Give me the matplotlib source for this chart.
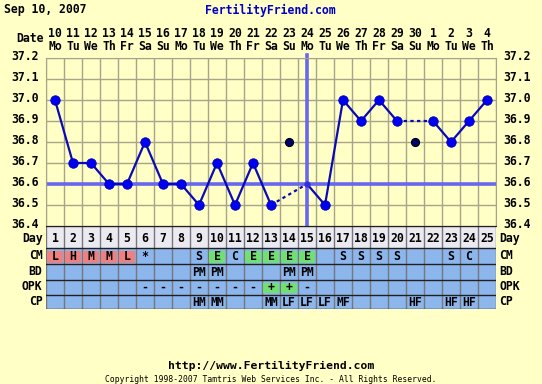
import matplotlib
matplotlib.use("Agg")
import matplotlib.pyplot as plt
import matplotlib.transforms as mtransforms
from matplotlib.patches import Rectangle

# --- datos del ciclo ---
days = list(range(1, 26))
dates = ["10", "11", "12", "13", "14", "15", "16", "17", "18", "19", "20", "21", "22",
         "23", "24", "25", "26", "27", "28", "29", "30", "1", "2", "3", "4"]
weekdays = ["Mo", "Tu", "We", "Th", "Fr", "Sa", "Su"] * 3 + ["Mo", "Tu", "We", "Th"]
temps = [37.0, 36.7, 36.7, 36.6, 36.6, 36.8, 36.6, 36.6, 36.5, 36.7, 36.5, 36.7, 36.5,
         36.8, 36.6, 36.5, 37.0, 36.9, 37.0, 36.9, 36.8, 36.9, 36.8, 36.9, 37.0]
discarded = [14, 21]
coverline = 36.6
ovulation_day = 15
yticks = [36.4, 36.5, 36.6, 36.7, 36.8, 36.9, 37.0, 37.1, 37.2]

cm = ["L", "H", "M", "M", "L", "*", "", "", "S", "E", "C", "E", "E", "E", "E", "",
      "S", "S", "S", "S", "", "", "S", "C", ""]
period_days = [1, 2, 3, 4, 5]
bd = [""] * 8 + ["PM", "PM", "", "", "", "PM", "PM"] + [""] * 10
opk = [""] * 5 + ["-", "-", "-", "-", "-", "-", "-", "+", "+", "-"] + [""] * 10
cp = [""] * 8 + ["HM", "MM", "", "", "MM", "LF", "LF", "LF", "MF", "", "", "",
                 "HF", "", "HF", "HF", ""]

BG = "#FFFFC6"
MONO = "DejaVu Sans Mono"
FS = 8.3

W, H = 542, 384
fig = plt.figure(figsize=(W / 100, H / 100), dpi=100, facecolor=BG)

# --- grafico de temperatura ---
ax = fig.add_axes([46 / W, (H - 226) / H, 450 / W, 168 / H])
ax.set_facecolor(BG)
ax.set_xlim(0.5, 25.5)
ax.set_ylim(36.4, 37.2)
for k in range(26):
    ax.axvline(0.5 + k, color="#A8A48C", lw=1, zorder=1)
for t in yticks:
    ax.axhline(t, color="#A8A48C", lw=1, zorder=1)
for s in ax.spines.values():
    s.set_color("#A8A48C")
ax.spines["bottom"].set_color("#202020")

ax.set_yticks(yticks)
ax.set_yticklabels([f"{t:.1f}" for t in yticks], fontfamily=MONO, fontweight="bold",
                   fontsize=FS)
ax.set_xticks(days)
ax.set_xticklabels([f"{d}\n{w}" for d, w in zip(dates, weekdays)], fontfamily=MONO,
                   fontweight="bold", fontsize=FS, linespacing=1.05)
ax.tick_params(axis="y", left=False, right=False, labelleft=True, labelright=True, pad=2)
ax.tick_params(axis="x", top=False, bottom=False, labeltop=True, labelbottom=False, pad=0)

# las etiquetas de temperatura quedan un poco por encima de la linea
shift = mtransforms.ScaledTranslation(0, 3.0 / 100, fig.dpi_scale_trans)
for tk in ax.yaxis.get_major_ticks():
    tk.label1.set_transform(tk.label1.get_transform() + shift)
    tk.label2.set_transform(tk.label2.get_transform() + shift)

# linea de cobertura y dia de ovulacion
ax.axhline(coverline, color="#6868EE", lw=2.6, zorder=2)
ax.axvline(ovulation_day, ymin=0, ymax=1.02, color="#6868EE", lw=2.6, zorder=2,
           clip_on=False)

valid = [d for d in days if d not in discarded]
for a, b in zip(valid[:-1], valid[1:]):
    style = "-" if b - a == 1 else (0, (1.5, 1.5))
    ax.plot([a, b], [temps[a - 1], temps[b - 1]], color="#0A0AB4", lw=1.6,
            linestyle=style, zorder=3)
vx = [d for d in valid if d != ovulation_day]
ax.plot(vx, [temps[d - 1] for d in vx], "o", color="#0000F0", mec="#0000B0",
        ms=6.8, mew=0.6, zorder=4)
ax.plot([ovulation_day], [temps[ovulation_day - 1]], "o", color="#3030E0",
        ms=3.5, zorder=4)
ax.plot(discarded, [temps[d - 1] for d in discarded], "o", color="#000070",
        mec="#000000", ms=5.8, mew=0.8, zorder=4)

fig.text(44 / W, 1 - 39 / H, "Date", ha="right", va="center", fontfamily=MONO,
         fontweight="bold", fontsize=FS)

# --- tabla de observaciones ---
tab = fig.add_axes([46 / W, (H - 309) / H, 450 / W, 83 / H])
tab.set_xlim(0.5, 25.5)
tab.set_ylim(83, 0)
tab.axis("off")

rows = [("Day", 0, 21.5), ("CM", 21.5, 38), ("BD", 38, 53.5), ("OPK", 53.5, 68.5),
        ("CP", 68.5, 83)]
for name, y0, y1 in rows:
    face = "#EAEAF0" if name == "Day" else "#8CB6EC"
    tab.add_patch(Rectangle((0.5, y0), 25, y1 - y0, facecolor=face, edgecolor="none"))
    ym = (y0 + y1) / 2 + (1.5 if name == "Day" else 0)
    tab.text(0.3, ym, name, ha="right", va="center", fontfamily=MONO,
             fontweight="bold", fontsize=FS, clip_on=False)
    tab.text(25.7, ym, name, ha="left", va="center", fontfamily=MONO,
             fontweight="bold", fontsize=FS, clip_on=False)

values = {"CM": cm, "BD": bd, "OPK": opk, "CP": cp}
for name, y0, y1 in rows:
    ym = (y0 + y1) / 2
    for d in days:
        if name == "Day":
            label = str(d)
        else:
            label = values[name][d - 1]
        color = None
        if name == "CM" and d in period_days:
            color = "#EE8080"
        elif (name == "CM" and label == "E") or (name == "OPK" and label == "+"):
            color = "#70E070"
        if color:
            tab.add_patch(Rectangle((d - 0.43, y0 + 3), 0.86, y1 - y0 - 4.5,
                                    facecolor=color, edgecolor="none", zorder=2))
        if label:
            tab.text(d, ym + (1.5 if name == "Day" else 0.5), label, ha="center",
                     va="center", fontfamily=MONO, fontweight="bold", fontsize=FS,
                     zorder=3)

for k in range(26):
    tab.plot([0.5 + k, 0.5 + k], [0, 83], color="#76767E", lw=1, zorder=1.5)
for _, y0, y1 in rows:
    tab.plot([0.5, 25.5], [y0, y0], color="#202020", lw=1, zorder=1.5)
tab.plot([0.5, 25.5], [83, 83], color="#202020", lw=1, zorder=1.5)

# --- textos de cabecera y pie ---
fig.text(4 / W, 1 - 10 / H, "Sep 10, 2007", ha="left", va="center", fontfamily=MONO,
         fontweight="bold", fontsize=FS)
fig.text(270 / W, 1 - 10 / H, "FertilityFriend.com", ha="center", va="center",
         fontfamily=MONO, fontweight="bold", fontsize=FS, color="#0000C8")
fig.text(271 / W, 1 - 366 / H, "http://www.FertilityFriend.com", ha="center",
         va="center", fontfamily=MONO, fontweight="bold", fontsize=8.2)
fig.text(271 / W, 1 - 380 / H,
         "Copyright 1998-2007 Tamtris Web Services Inc. - All Rights Reserved.",
         ha="center", va="center", fontfamily=MONO, fontsize=5.8)

fig.savefig("out.png", dpi=100, facecolor=BG)
